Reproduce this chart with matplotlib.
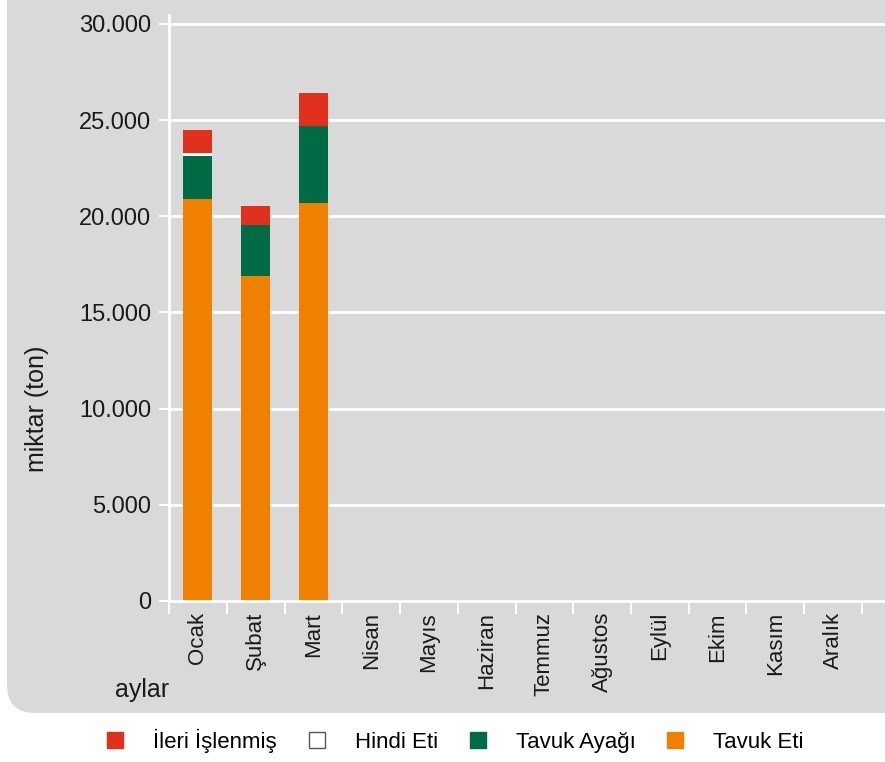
import matplotlib
matplotlib.use("Agg")
import matplotlib.pyplot as plt
import numpy as np
from matplotlib.patches import FancyBboxPatch
from matplotlib.lines import Line2D

plt.rcParams['font.family'] = ['Liberation Sans Narrow', 'Liberation Sans', 'DejaVu Sans']

# data (tons)
months = ["Ocak", "Şubat", "Mart", "Nisan", "Mayıs", "Haziran", "Temmuz",
          "Ağustos", "Eylül", "Ekim", "Kasım", "Aralık"]
tavuk_eti = [20900, 16900, 20700]
tavuk_ayagi = [2250, 2650, 4000]
hindi_eti = [150, 0, 0]
ileri_islenmis = [1200, 1000, 1700]

bg = "#d9d9d9"
c_red = "#e0301e"
c_green = "#006b45"
c_orange = "#f08000"

fig = plt.figure(figsize=(8.85, 7.62), dpi=100)
fig.patches.append(FancyBboxPatch((0.07, 0.49), 10, 10,
                                  boxstyle="round,pad=0,rounding_size=0.28",
                                  transform=fig.dpi_scale_trans,
                                  facecolor=bg, edgecolor="none", zorder=-5))

ax = fig.add_axes([0.191, 0.2113, 0.783, 0.7687])
ax.set_facecolor(bg)
ax.patch.set_alpha(0)

x = np.arange(len(tavuk_eti))
w = 0.5
b1 = np.array(tavuk_eti)
b2 = b1 + np.array(tavuk_ayagi)
b3 = b2 + np.array(hindi_eti)
ax.bar(x, tavuk_eti, w, color=c_orange, zorder=3)
ax.bar(x, tavuk_ayagi, w, bottom=b1, color=c_green, zorder=3)
ax.bar(x, hindi_eti, w, bottom=b2, color="white", zorder=3)
ax.bar(x, ileri_islenmis, w, bottom=b3, color=c_red, zorder=3)

ax.set_xlim(-0.5, len(months) - 0.5)
ax.set_ylim(0, 30450)
ax.set_yticks(range(0, 30001, 5000))
ax.set_yticklabels(["0", "5.000", "10.000", "15.000", "20.000", "25.000", "30.000"])
for yv in range(5000, 30001, 5000):
    ax.axhline(yv, xmax=1.035, color="white", lw=2, zorder=1, clip_on=False)
ax.axhline(0, xmax=1.035, color="white", lw=2, zorder=4, clip_on=False)

ax.set_xticks(np.arange(len(months)))
ax.set_xticklabels(months, rotation=90)
ax.set_xticks(np.arange(len(months) + 1) - 0.5, minor=True)
ax.tick_params(axis="x", which="major", length=0, pad=8, labelsize=16, labelcolor="#1a1a1a")
ax.tick_params(axis="x", which="minor", length=9, width=1.5, color="white", direction="out")
ax.tick_params(axis="y", length=7, width=1.5, color="white", labelsize=17, labelcolor="#1a1a1a", pad=6)

for s in ["top", "right", "bottom"]:
    ax.spines[s].set_visible(False)
ax.spines["left"].set_color("white")
ax.spines["left"].set_linewidth(2)

fig.text(0.042, 0.463, "miktar (ton)", rotation=90, fontsize=18, ha="center", va="center", color="#1a1a1a")
fig.text(0.16, 0.095, "aylar", fontsize=18, ha="center", va="center", color="#1a1a1a")

handles = [
    Line2D([], [], marker="s", ls="none", ms=12, mfc=c_red, mec=c_red),
    Line2D([], [], marker="s", ls="none", ms=12, mfc="white", mec="#555555", mew=1),
    Line2D([], [], marker="s", ls="none", ms=12, mfc=c_green, mec=c_green),
    Line2D([], [], marker="s", ls="none", ms=12, mfc=c_orange, mec=c_orange),
]
labels = ["İleri İşlenmiş", "Hindi Eti", "Tavuk Ayağı", "Tavuk Eti"]
fig.legend(handles, labels, loc="center", bbox_to_anchor=(0.513, 0.028), ncol=4,
           frameon=False, fontsize=16, handletextpad=1.2, columnspacing=1.3,
           handlelength=1.0)

fig.savefig("out.png", dpi=100)
